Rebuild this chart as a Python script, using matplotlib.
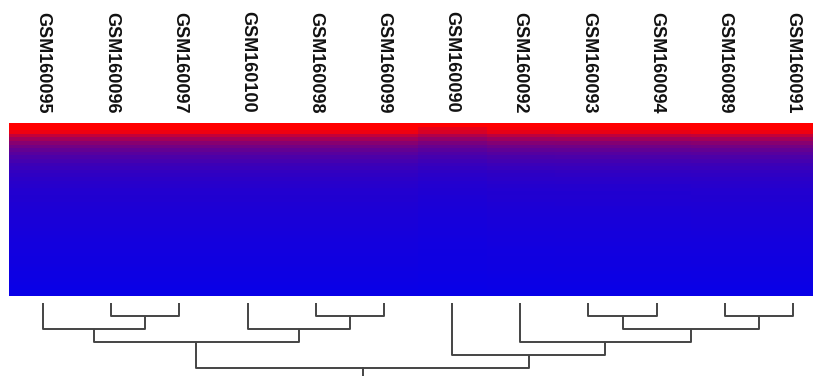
import numpy as np
import matplotlib
matplotlib.use('Agg')
import matplotlib.pyplot as plt
import matplotlib.transforms as mtransforms
from matplotlib.colors import LinearSegmentedColormap

# column order as in the dendrogram
samples = ['GSM160095', 'GSM160096', 'GSM160097', 'GSM160100', 'GSM160098', 'GSM160099',
           'GSM160090', 'GSM160092', 'GSM160093', 'GSM160094', 'GSM160089', 'GSM160091']

# scaled expression per row (top to bottom)
row_profile = [1.00, 1.00, 0.93, 0.76, 0.63, 0.53, 0.45, 0.39, 0.34, 0.30,
               0.27, 0.24, 0.22, 0.20, 0.185, 0.17, 0.16, 0.15, 0.14, 0.135,
               0.13, 0.125, 0.12, 0.115, 0.11, 0.106, 0.102, 0.098, 0.094, 0.09,
               0.087, 0.084, 0.081, 0.078, 0.075, 0.072, 0.069, 0.066, 0.063, 0.06,
               0.057, 0.054, 0.051, 0.048, 0.045, 0.042, 0.039, 0.036]

# per-sample level relative to the profile
sample_scale = [1.00, 1.00, 1.00, 1.00, 1.00, 1.00, 0.90, 0.97, 0.98, 0.98, 1.00, 1.00]

# dendrogram merges: (left cluster, right cluster, height); leaves are 0..11
merges = [(1, 2, 1), (0, 12, 2), (4, 5, 1), (3, 14, 2), (13, 15, 3),
          (8, 9, 1), (10, 11, 1), (17, 18, 2), (7, 19, 3), (6, 20, 4), (16, 21, 5)]

mat = np.outer(row_profile, sample_scale)
mat[0, :] = row_profile[0]  # top row is saturated everywhere
mat = np.clip(mat, 0, 1)

cmap = LinearSegmentedColormap.from_list('br', ['#0000F0', '#FF0000'])

W, H = 813, 376
fig = plt.figure(figsize=(W / 100, H / 100), dpi=100)

# heatmap spans px 9..827 (cropped on the right), 123..296 vertically
x0, x1 = 9, 827
ax = fig.add_axes([x0 / W, (H - 296) / H, (x1 - x0) / W, 173 / H])
ax.imshow(mat, cmap=cmap, vmin=0, vmax=1, aspect='auto', interpolation='nearest',
          extent=(-0.5, len(samples) - 0.5, len(row_profile), 0))
ax.set_xlim(-0.5, len(samples) - 0.5)
ax.axis('off')

# sample labels on top, reading downward
trans = mtransforms.blended_transform_factory(ax.transData, ax.transAxes)
for i, s in enumerate(samples):
    ax.text(i, 1 + 10 / 173, s, transform=trans, rotation=270, ha='center', va='bottom',
            fontsize=13, fontweight='bold', family=['Liberation Sans', 'DejaVu Sans'],
            color='#111111')

# dendrogram below
dax = fig.add_axes([x0 / W, 0, (x1 - x0) / W, 80 / H])
step = 13.0  # px per height unit
dax.set_xlim(-0.5, len(samples) - 0.5)
dax.set_ylim((H - 303) / step, -7 / step)
dax.axis('off')

pos = {i: (float(i), 0.0) for i in range(len(samples))}
lc = '#444444'
for k, (a, b, h) in enumerate(merges):
    xa, ha = pos[a]
    xb, hb = pos[b]
    dax.plot([xa, xa, xb, xb], [ha, h, h, hb], color=lc, lw=1.4, solid_capstyle='butt')
    pos[len(samples) + k] = ((xa + xb) / 2, h)

# root stem runs off the bottom
xr, hr = pos[len(samples) + len(merges) - 1]
dax.plot([xr, xr], [hr, hr + 2], color=lc, lw=1.4)

fig.savefig('out.png', dpi=100)
